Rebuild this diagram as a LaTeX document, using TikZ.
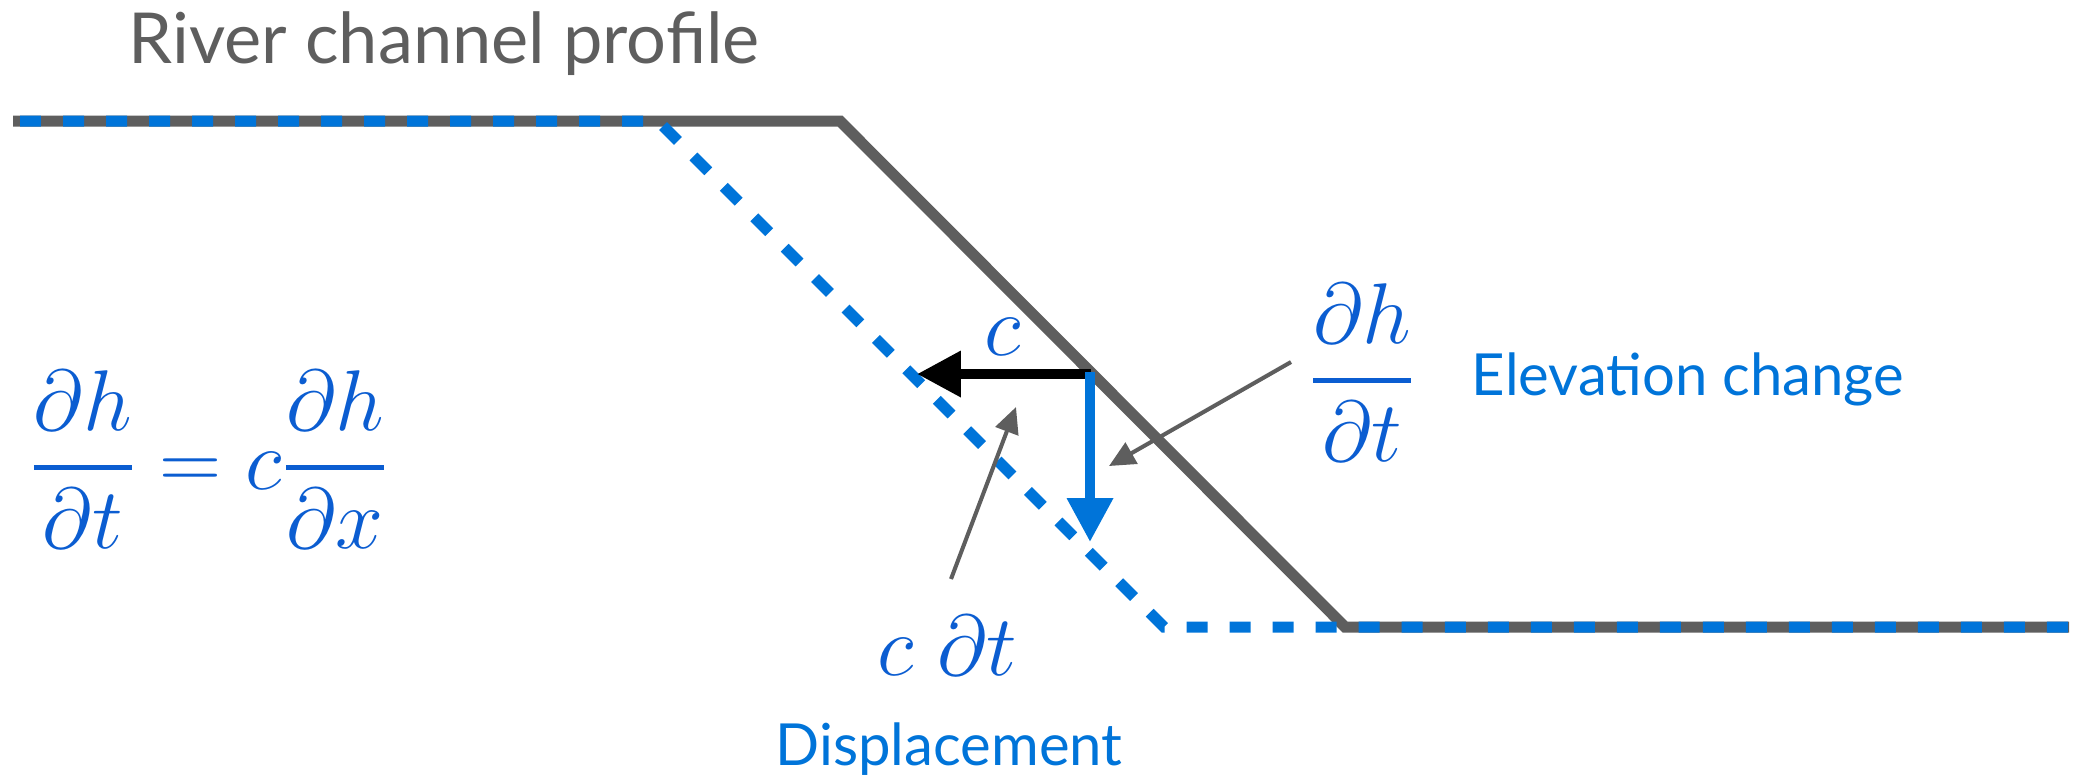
\RequirePackage{fix-cm}
\documentclass[tikz,border=0pt]{standalone}
\usepackage{amsmath}
\usepackage[no-math]{fontspec}
\setmainfont{Lato}
\usetikzlibrary{arrows.meta}
\definecolor{lgray}{RGB}{94,94,94}
\definecolor{lblue}{RGB}{0,116,217}
\definecolor{mblue}{RGB}{11,93,209}
\newcommand{\thickfrac}[2]{\genfrac{}{}{1.2pt}{0}{#1}{#2}}
\begin{document}
\begin{tikzpicture}[x=0.01cm,y=-0.01cm,
  profile/.style={line width=3.13pt, draw=lgray, line join=miter},
  shiftedprofile/.style={line width=3.13pt, draw=lblue, dash pattern=on 5.97pt off 6.26pt},
  bigarrow/.style={line width=2.85pt, -{Triangle[length=12.5pt,width=12.5pt]}},
  pointer/.style={line width=1.15pt, draw=lgray, -{Triangle[length=7.4pt,width=6.8pt]}},
  mathlabel/.style={inner sep=0pt, text=mblue, font=\fontsize{24.5}{30}\selectfont},
  bluetext/.style={inner sep=0pt, text=lblue, font=\fontsize{16.5}{20}\selectfont},
  titletext/.style={inner sep=0pt, text=lgray, font=\fontsize{20}{24}\selectfont}]
\useasboundingbox (0,0) rectangle (2083,778);
% profile lines
\coordinate (g0) at (13,121);
\coordinate (g1) at (840,121);
\coordinate (g2) at (1345,627);
\coordinate (g3) at (2069,627);
\coordinate (b0) at (20,121);
\coordinate (b1) at (658,121);
\coordinate (b2) at (1164,627);
\coordinate (b3) at (2069,627);
\draw[profile] (g0) -- (g1) -- (g2) -- (g3);
\draw[shiftedprofile] (b0) -- (b1) -- (b2) -- (b3);
% arrows
\coordinate (o) at (1091,374);
\coordinate (ctip) at (917,374);
\coordinate (vtop) at (1090,372);
\coordinate (vtip) at (1090,542);
\draw[bigarrow, draw=black, fill=black] (o) -- (ctip);
\draw[bigarrow, draw=lblue, fill=lblue] (vtop) -- (vtip);
% labels
\node[titletext, anchor=base west] (title) at (128,63) {River channel profile};
\node[mathlabel, anchor=base west] (eq) at (29,489)
  {$\thickfrac{\partial h}{\partial t} = c\thickfrac{\partial h}{\partial x}$};
\node[mathlabel, anchor=base] (clab) at (1003,355) {$c$};
\node[mathlabel, anchor=base] (dhdt) at (1362,402) {$\thickfrac{\partial h}{\partial t}$};
\node[bluetext, anchor=base west] (elev) at (1471,395) {Elevation change};
\node[mathlabel, anchor=base] (cdt) at (947,675) {$c\;\partial t$};
\node[bluetext, anchor=base] (disp) at (949,765) {Displacement};
% pointers
\coordinate (p1s) at (1291,362);
\coordinate (p1e) at (1109,466);
\coordinate (p2s) at (951,579);
\coordinate (p2e) at (1016,407);
\draw[pointer, fill=lgray] (p1s) -- (p1e);
\draw[pointer, fill=lgray] (p2s) -- (p2e);
\end{tikzpicture}
\end{document}
